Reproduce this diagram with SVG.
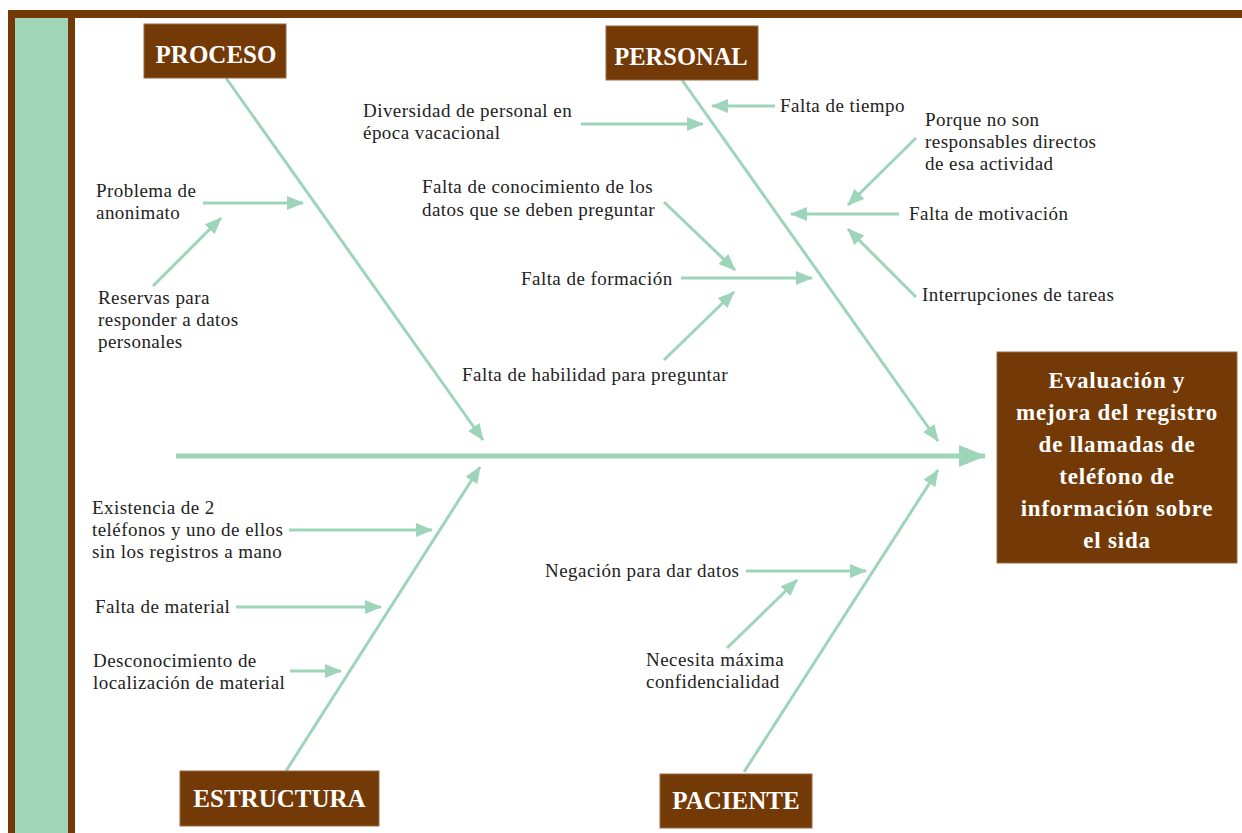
<svg xmlns="http://www.w3.org/2000/svg" width="1242" height="833" viewBox="0 0 1242 833">
<style>
.t{font-family:"Liberation Serif","Times New Roman",serif;font-size:19px;letter-spacing:0.45px;fill:#222}
.b{font-family:"Liberation Serif","Times New Roman",serif;font-weight:bold;fill:#fff;text-anchor:middle}
.box{fill:#733906;stroke:#9a6a44;stroke-width:1}
.sa{stroke:#9ed5ba;stroke-width:3;fill:none;marker-end:url(#ah)}
</style>
<defs>
<marker id="ah" markerUnits="userSpaceOnUse" markerWidth="18" markerHeight="14" refX="16" refY="7" orient="auto"><path d="M0,0 L17,7 L0,14 z" fill="#9ed5ba"/></marker>
<marker id="ahb" markerUnits="userSpaceOnUse" markerWidth="28" markerHeight="24" refX="26" refY="12" orient="auto"><path d="M0,1 L27,12 L0,23 z" fill="#9ed5ba"/></marker>
</defs>
<rect width="1242" height="833" fill="#fff"/>
<g id="frame">
<rect x="8" y="10" width="1234" height="8" fill="#733906"/>
<rect x="8" y="10" width="7" height="823" fill="#733906"/>
<rect x="15" y="18" width="53" height="815" fill="#a0d5ba"/>
<rect x="68" y="18" width="7" height="815" fill="#733906"/>
</g>
<g id="connectors">
<line x1="176" y1="456" x2="985" y2="456" stroke="#9ed5ba" stroke-width="5" marker-end="url(#ahb)"/>
<line class="sa" x1="226" y1="78" x2="483" y2="440"/>
<line class="sa" x1="682" y1="80" x2="938" y2="441"/>
<line class="sa" x1="286" y1="771" x2="480" y2="467"/>
<line class="sa" x1="744" y1="772" x2="938" y2="470"/>
<line class="sa" x1="203" y1="203" x2="303" y2="203"/>
<line class="sa" x1="153" y1="286" x2="221" y2="218"/>
<line class="sa" x1="581" y1="124" x2="703" y2="124"/>
<line class="sa" x1="775" y1="106" x2="712" y2="106"/>
<line class="sa" x1="916" y1="138" x2="848" y2="205"/>
<line class="sa" x1="899" y1="214" x2="791" y2="214"/>
<line class="sa" x1="916" y1="297" x2="848" y2="229"/>
<line class="sa" x1="681" y1="278" x2="812" y2="278"/>
<line class="sa" x1="664" y1="202" x2="735" y2="270"/>
<line class="sa" x1="664" y1="360" x2="734" y2="292"/>
<line class="sa" x1="289" y1="530" x2="432" y2="530"/>
<line class="sa" x1="236" y1="607" x2="381" y2="607"/>
<line class="sa" x1="290" y1="671" x2="341" y2="671"/>
<line class="sa" x1="746" y1="571" x2="866" y2="571"/>
<line class="sa" x1="727" y1="648" x2="797" y2="580"/>
</g>
<g id="proceso"><rect class="box" x="144" y="24" width="142" height="54"/><text class="b" x="216" y="63" font-size="25">PROCESO</text></g>
<g id="personal"><rect class="box" x="606" y="26" width="152" height="54"/><text class="b" x="681" y="65" font-size="24.5">PERSONAL</text></g>
<g id="estructura"><rect class="box" x="180" y="771" width="199" height="55"/><text class="b" x="279.5" y="807" font-size="25">ESTRUCTURA</text></g>
<g id="paciente"><rect class="box" x="660" y="774" width="152" height="54"/><text class="b" x="736" y="809" font-size="25">PACIENTE</text></g>
<g id="efecto"><rect class="box" x="997" y="352" width="240" height="211"/>
<text class="b" font-size="23" letter-spacing="0.8"><tspan x="1117" y="388">Evaluación y</tspan><tspan x="1117" y="420">mejora del registro</tspan><tspan x="1117" y="452">de llamadas de</tspan><tspan x="1117" y="484">teléfono de</tspan><tspan x="1117" y="516">información sobre</tspan><tspan x="1117" y="548">el sida</tspan></text></g>
<g id="c1"><text class="t"><tspan x="96" y="197">Problema de</tspan><tspan x="96" y="219">anonimato</tspan></text></g>
<g id="c2"><text class="t"><tspan x="98" y="304">Reservas para</tspan><tspan x="98" y="326">responder a datos</tspan><tspan x="98" y="348">personales</tspan></text></g>
<g id="c3"><text class="t"><tspan x="363" y="117">Diversidad de personal en</tspan><tspan x="363" y="139">época vacacional</tspan></text></g>
<g id="c4"><text class="t" x="780" y="112">Falta de tiempo</text></g>
<g id="c5"><text class="t"><tspan x="925" y="126">Porque no son</tspan><tspan x="925" y="148">responsables directos</tspan><tspan x="925" y="170">de esa actividad</tspan></text></g>
<g id="c6"><text class="t" x="909" y="220">Falta de motivación</text></g>
<g id="c7"><text class="t" x="922" y="301">Interrupciones de tareas</text></g>
<g id="c8"><text class="t"><tspan x="422" y="193">Falta de conocimiento de los</tspan><tspan x="422" y="216">datos que se deben preguntar</tspan></text></g>
<g id="c9"><text class="t" x="521" y="285">Falta de formación</text></g>
<g id="c10"><text class="t" x="462" y="381">Falta de habilidad para preguntar</text></g>
<g id="c11"><text class="t"><tspan x="92" y="514">Existencia de 2</tspan><tspan x="92" y="536">teléfonos y uno de ellos</tspan><tspan x="92" y="558">sin los registros a mano</tspan></text></g>
<g id="c12"><text class="t" x="95" y="613">Falta de material</text></g>
<g id="c13"><text class="t"><tspan x="93" y="667">Desconocimiento de</tspan><tspan x="93" y="689">localización de material</tspan></text></g>
<g id="c14"><text class="t" x="545" y="577">Negación para dar datos</text></g>
<g id="c15"><text class="t"><tspan x="646" y="666">Necesita máxima</tspan><tspan x="646" y="688">confidencialidad</tspan></text></g>
</svg>
